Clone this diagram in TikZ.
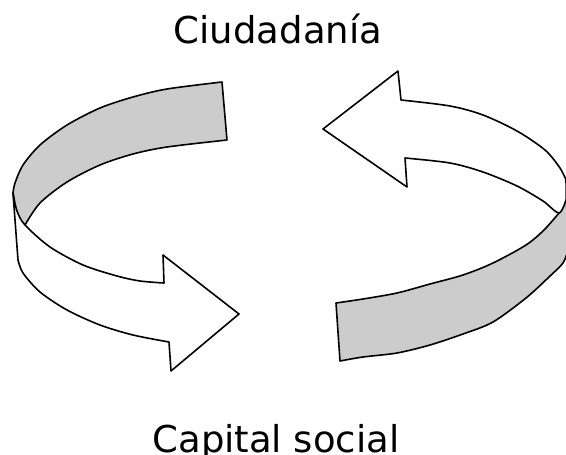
\documentclass[tikz,border=0pt]{standalone}
\usepackage{fontspec}
\setmainfont{DejaVu Sans}
\definecolor{backgray}{gray}{0.8}
\begin{document}
\begin{tikzpicture}[x=1pt,y=-1pt,
  band/.style={draw=black, line width=1.6pt, line join=round, fill=white},
  backside/.style={band, fill=backgray},
  titletext/.style={font=\fontsize{37}{44}\selectfont, anchor=base}]
\useasboundingbox (0,0) rectangle (566,455);

\node[titletext] (ciudadania) at (278,43) {Ciudadanía};
\node[titletext] (capital) at (276,452) {Capital social};

% left arrow: back of the band
\draw[backside] plot[smooth] coordinates {(222,82) (167,89) (133,97) (100,108) (67,125) (40,145) (23,165) (15,183) (13,193)}
  -- (19,236) -- (25,225)
  -- plot[smooth] coordinates {(25,225) (40,203) (67,182) (100,165) (133,154) (167,147) (227,140)}
  -- cycle;
% left arrow: front of the band
\draw[band] (13,193) -- (18,260)
  -- plot[smooth] coordinates {(18,260) (23,273) (40,292) (67,310) (100,325) (133,335) (169,342)}
  -- (171,371) -- (239,314) -- (163,255) -- (164,283)
  -- plot[smooth] coordinates {(164,283) (140,281) (117,276) (83,265) (50,247) (25,225) (17,211) (13,193)}
  -- cycle;

% right arrow: back of the band
\draw[backside] plot[smooth] coordinates {(559,213) (544,230) (526,245) (493,263) (463,275) (430,284) (397,293) (363,299) (336,303)}
  -- (340,361)
  -- plot[smooth] coordinates {(340,361) (363,357) (397,353) (430,345) (463,334) (493,322) (526,298) (549,277) (563,263) (568,250)}
  -- (566,180) -- (562,196) -- cycle;
% right arrow: front of the band
\draw[band] (401,100)
  -- plot[smooth] coordinates {(401,100) (450,106) (483,115) (517,131) (545,150) (560,168) (566,180)}
  -- (566.3,199)
  -- plot[smooth] coordinates {(566.3,199) (559,213) (543,201) (517,186) (483,172) (450,163) (405,158)}
  -- (407,187) -- (323,129) -- (398,71) -- cycle;

\end{tikzpicture}
\end{document}
